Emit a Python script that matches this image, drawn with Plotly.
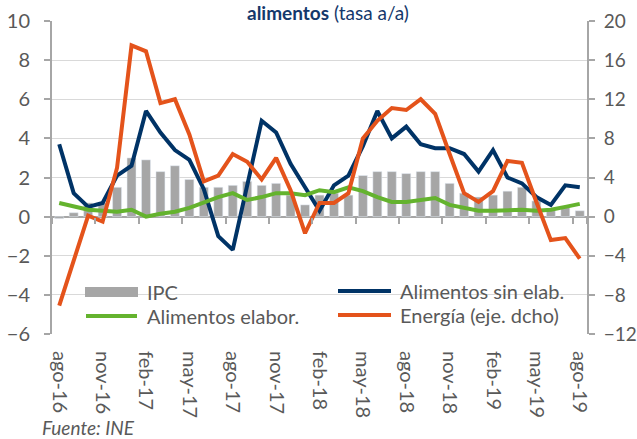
import plotly.graph_objects as go

months = ['ago-16','sep-16','oct-16','nov-16','dic-16','ene-17','feb-17','mar-17','abr-17','may-17',
          'jun-17','jul-17','ago-17','sep-17','oct-17','nov-17','dic-17','ene-18','feb-18','mar-18',
          'abr-18','may-18','jun-18','jul-18','ago-18','sep-18','oct-18','nov-18','dic-18','ene-19',
          'feb-19','mar-19','abr-19','may-19','jun-19','jul-19','ago-19']

ipc = [-0.1, 0.2, 0.7, 0.7, 1.5, 3.0, 2.9, 2.3, 2.6, 1.9, 1.5, 1.5, 1.6, 1.8, 1.6, 1.7, 1.1, 0.6, 1.1,
       1.2, 1.1, 2.1, 2.3, 2.3, 2.2, 2.3, 2.3, 1.7, 1.2, 1.0, 1.1, 1.3, 1.5, 0.8, 0.4, 0.5, 0.3]

sin_elab = [3.7, 1.2, 0.5, 0.7, 2.1, 2.6, 5.4, 4.3, 3.4, 2.9, 1.4, -1.0, -1.7, 1.6, 4.9, 4.3, 2.7, 1.5,
            0.3, 1.6, 2.1, 3.6, 5.4, 4.0, 4.6, 3.7, 3.5, 3.5, 3.2, 2.3, 3.4, 2.0, 1.7, 1.0, 0.6, 1.6, 1.5]

elabor = [0.7, 0.5, 0.35, 0.3, 0.25, 0.35, 0.0, 0.15, 0.25, 0.45, 0.75, 1.0, 1.2, 0.85, 1.0, 1.2, 1.2,
          1.1, 1.35, 1.25, 1.5, 1.3, 1.0, 0.75, 0.75, 0.85, 0.95, 0.6, 0.45, 0.3, 0.3, 0.35, 0.35, 0.3,
          0.35, 0.5, 0.65]

energia = [-9.1, -4.5, 0.1, -0.5, 5.0, 17.5, 16.9, 11.6, 12.0, 8.4, 3.6, 4.2, 6.4, 5.6, 3.8, 6.0, 2.7,
           -1.7, 1.4, 1.4, 2.4, 8.0, 9.8, 11.1, 10.9, 12.0, 10.5, 6.4, 2.4, 1.5, 2.6, 5.7, 5.5, 1.5,
           -2.4, -2.2, -4.3]

tick_labels = months[::3]

names = ['IPC', 'Alimentos sin elab.', 'Alimentos elabor.', 'Energía (eje. dcho)']
GRAY_BAR = '#A6A6A6'
NAVY = '#003366'
GREEN = '#64B32E'
ORANGE = '#E4531B'
TXT = '#595959'
AXIS = '#A6A6A6'
GRID = '#D9D9D9'
FONT = "Lato, 'Open Sans', sans-serif"

W, H = 637, 439
L, R, T, B = 52, 587, 21, 334


def px_x(x):
    return (x - L) / (R - L)


def px_y(y):
    return (B - y) / (B - T)


fig = go.Figure()
fig.add_trace(go.Bar(x=months, y=ipc, name=names[0], marker_color=GRAY_BAR, showlegend=False))
fig.add_trace(go.Scatter(x=months, y=sin_elab, name=names[1], mode='lines',
                         line=dict(color=NAVY, width=4), showlegend=False))
fig.add_trace(go.Scatter(x=months, y=elabor, name=names[2], mode='lines',
                         line=dict(color=GREEN, width=4), showlegend=False))
fig.add_trace(go.Scatter(x=months, y=energia, name=names[3], mode='lines', yaxis='y2',
                         line=dict(color=ORANGE, width=4), showlegend=False))
# helper trace for the axis that carries the tick marks at zero
fig.add_trace(go.Scatter(x=months, y=[None] * len(months), xaxis='x2', yaxis='y',
                         showlegend=False, hoverinfo='skip'))

shapes = [
    dict(type='rect', xref='paper', yref='paper', x0=px_x(83), x1=px_x(577), y0=px_y(331), y1=px_y(272),
         fillcolor='white', line=dict(width=0), layer='between'),
    dict(type='rect', xref='paper', yref='paper', x0=px_x(85), x1=px_x(138), y0=px_y(297), y1=px_y(287),
         fillcolor=GRAY_BAR, line=dict(width=0), layer='above'),
    dict(type='line', xref='paper', yref='paper', x0=px_x(86), x1=px_x(137), y0=px_y(316), y1=px_y(316),
         line=dict(color=GREEN, width=4), layer='above'),
    dict(type='line', xref='paper', yref='paper', x0=px_x(338), x1=px_x(391), y0=px_y(291), y1=px_y(291),
         line=dict(color=NAVY, width=4), layer='above'),
    dict(type='line', xref='paper', yref='paper', x0=px_x(338), x1=px_x(391), y0=px_y(315), y1=px_y(315),
         line=dict(color=ORANGE, width=4), layer='above'),
]

legend_text = [(names[0], 145, 292), (names[2], 145, 316), (names[1], 398, 291), (names[3], 398, 315)]
annotations = []
for txt, x, y in legend_text:
    annotations.append(dict(text=txt, xref='paper', yref='paper', x=px_x(x), y=px_y(y),
                            xanchor='left', yanchor='middle', showarrow=False,
                            font=dict(family=FONT, size=20, color=TXT)))

annotations.append(dict(text='<b>alimentos</b> (tasa a/a)', xref='paper', yref='paper',
                        x=px_x(328), y=px_y(0), xanchor='center', yanchor='top', showarrow=False,
                        borderpad=0, font=dict(family=FONT, size=19, color='#14386B')))
annotations.append(dict(text='<i>Fuente: INE</i>', xref='paper', yref='paper',
                        x=px_x(40), y=px_y(427), xanchor='left', yanchor='middle', showarrow=False,
                        font=dict(family=FONT, size=19, color=TXT)))

fig.update_layout(
    width=W, height=H,
    margin=dict(l=L, r=W - R, t=T, b=H - B, pad=0, autoexpand=False),
    plot_bgcolor='white', paper_bgcolor='white',
    bargap=0.38,
    font=dict(family=FONT, size=20, color=TXT),
    showlegend=False,
    shapes=shapes,
    annotations=annotations,
    xaxis=dict(type='category', categoryorder='array', categoryarray=months, range=[-0.5, 36.5],
               tickvals=tick_labels, ticktext=tick_labels, tickangle=90, ticks='', showline=False,
               showgrid=False, zeroline=False, tickfont=dict(family=FONT, size=20, color=TXT),
               ticklabelstandoff=16, automargin=False),
    xaxis2=dict(type='category', categoryorder='array', categoryarray=months, range=[-0.5, 36.5],
                overlaying='x', anchor='free', position=0.375, tickvals=tick_labels,
                tickson='boundaries', ticks='outside', ticklen=6, tickwidth=1.5, tickcolor=AXIS,
                showticklabels=False, showgrid=False, showline=False, zeroline=False, automargin=False),
    yaxis=dict(range=[-6, 10], tickvals=[-6, -4, -2, 0, 2, 4, 6, 8, 10], showgrid=True, gridcolor=GRID,
               gridwidth=1.3, showline=True, linecolor=AXIS, linewidth=2, ticks='outside', ticklen=6,
               tickwidth=1.5, tickcolor=AXIS, zeroline=True, zerolinecolor=AXIS, zerolinewidth=2,
               tickfont=dict(family=FONT, size=20, color=TXT), ticklabelstandoff=10, automargin=False),
    yaxis2=dict(range=[-12, 20], tickvals=[-12, -8, -4, 0, 4, 8, 12, 16, 20], overlaying='y',
                side='right', anchor='x', showgrid=False, zeroline=False, showline=True, linecolor=AXIS,
                linewidth=2, ticks='outside', ticklen=6, tickwidth=1.5, tickcolor=AXIS,
                tickfont=dict(family=FONT, size=19, color=TXT), ticklabelstandoff=5, automargin=False),
)

fig.write_html('out.html', config={'displayModeBar': False},
               post_script="document.body.style.margin='0';")
